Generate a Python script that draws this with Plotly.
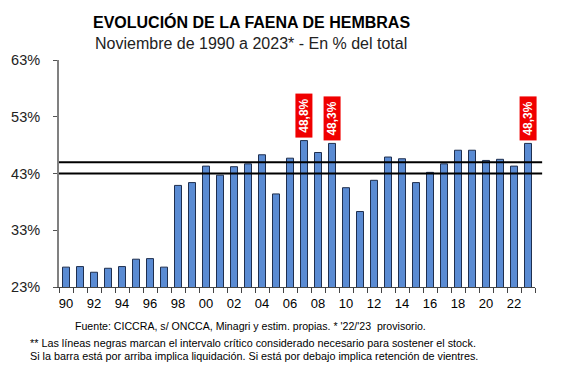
import plotly.graph_objects as go

years = list(range(1990, 2024))
values = [26.5, 26.6, 25.6, 26.3, 26.6, 27.9, 28.0, 26.5, 40.9, 41.4,
          44.3, 42.7, 44.2, 44.7, 46.3, 39.4, 45.7, 48.8, 46.7, 48.3,
          40.5, 36.3, 41.8, 45.9, 45.6, 41.4, 43.2, 44.7, 47.1, 47.1,
          45.3, 45.5, 44.3, 48.3]
tick_years = list(range(1990, 2023, 2))
tick_labels = [f"{y % 100:02d}" for y in tick_years]
y_ticks = [23, 33, 43, 53, 63]
y_tick_labels = [f"{v}%" for v in y_ticks]
critical_low = 43.0
critical_high = 45.0
highlight_years = [2007, 2009, 2023]
highlight_labels = ["48,8%", "48,3%", "48,3%"]

FONT = "Liberation Sans, Arial, sans-serif"

fig = go.Figure()
fig.add_trace(go.Bar(
    x=years, y=values, width=0.5,
    marker=dict(color="#5A8BD3", line=dict(color="#1F2F4F", width=1)),
))

for y0 in (critical_low, critical_high):
    fig.add_shape(type="line", xref="paper", yref="y", x0=0, x1=1.015, y0=y0, y1=y0,
                  line=dict(color="black", width=2))

for yr, lab in zip(highlight_years, highlight_labels):
    v = values[years.index(yr)]
    fig.add_annotation(x=yr, y=v, text=f"<b>&nbsp;{lab}&nbsp;</b>", showarrow=False, textangle=-90,
                       xanchor="center", yanchor="bottom", yshift=2,
                       bgcolor="#F00000", font=dict(color="white", size=12, family=FONT),
                       borderpad=1)

TX = 0.4034
fig.add_annotation(xref="paper", yref="paper", x=TX, y=1.0, yshift=38,
                   text="<b>EVOLUCIÓN DE LA FAENA DE HEMBRAS</b>", showarrow=False,
                   font=dict(size=16, color="black", family=FONT), xanchor="center", yanchor="middle")
fig.add_annotation(xref="paper", yref="paper", x=TX, y=1.0, yshift=17,
                   text="Noviembre de 1990 a 2023* - En % del total", showarrow=False,
                   font=dict(size=16, color="#222222", family=FONT), xanchor="center", yanchor="middle")

fig.add_annotation(xref="paper", yref="paper", x=0.4022, y=0, yshift=-39,
                   text="Fuente: CICCRA, s/ ONCCA, Minagri y estim. propias. * '22/'23  provisorio.",
                   showarrow=False, font=dict(size=10.6, color="black", family=FONT),
                   xanchor="center", yanchor="middle")
fig.add_annotation(xref="paper", yref="paper", x=-0.0651, y=0, yshift=-56,
                   text="** Las líneas negras marcan el intervalo crítico considerado necesario para sostener el stock.",
                   showarrow=False, align="left", font=dict(size=10.8, color="black", family=FONT),
                   xanchor="left", yanchor="middle")
fig.add_annotation(xref="paper", yref="paper", x=-0.0651, y=0, yshift=-68.5,
                   text="Si la barra está por arriba implica liquidación. Si está por debajo implica retención de vientres.",
                   showarrow=False, align="left", font=dict(size=10.8, color="black", family=FONT),
                   xanchor="left", yanchor="middle")

fig.update_layout(
    width=566, height=376,
    margin=dict(l=51, r=39, t=52, b=97),
    paper_bgcolor="white", plot_bgcolor="white",
    showlegend=False,
    font=dict(family=FONT, color="black"),
    xaxis=dict(range=[1989.5, 2023.5], tickmode="array", tickvals=tick_years, ticktext=tick_labels,
               ticks="", showgrid=False, zeroline=False, showline=True, linecolor="#444444", linewidth=1,
               tickfont=dict(size=13, color="black"), ticklabelstandoff=4, automargin=False,
               minor=dict(ticks="outside", tickmode="linear", tick0=1989.5, dtick=1, ticklen=5,
                          tickcolor="#444444", showgrid=False)),
    yaxis=dict(range=[23, 63], tickmode="array", tickvals=y_ticks, ticktext=y_tick_labels,
               ticks="outside", ticklen=4, tickcolor="#555555", showgrid=False, zeroline=False,
               showline=True, linecolor="#808080", linewidth=2, ticklabelstandoff=10,
               automargin=False, tickfont=dict(size=14.5, color="#222222")),
)

fig.write_html("out.html")
